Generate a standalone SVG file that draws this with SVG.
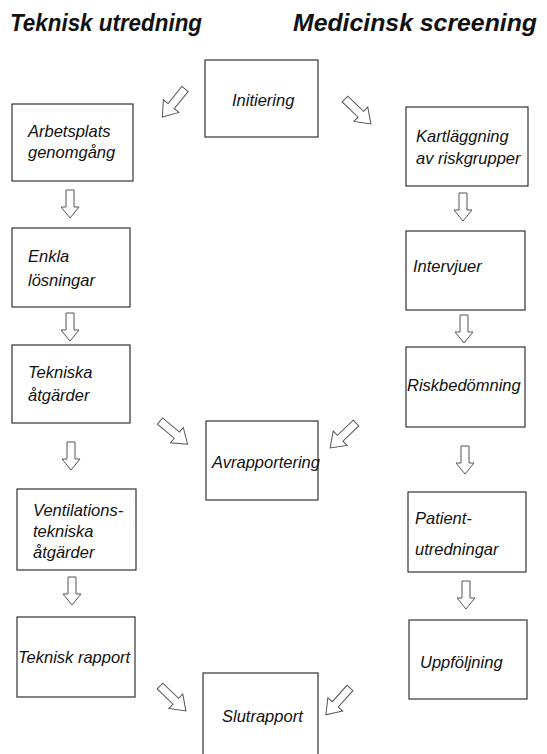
<svg xmlns="http://www.w3.org/2000/svg" width="547" height="754" viewBox="0 0 547 754">
<style>
.title{font-family:"Liberation Sans",Arial,sans-serif;font-weight:bold;font-style:italic;font-size:23px;fill:#111}
.lbl{font-family:"Liberation Sans",Arial,sans-serif;font-style:italic;font-size:16.5px;fill:#111}
.box{fill:#fff;stroke:#333;stroke-width:1.2}
.arr{fill:#fff;stroke:#555;stroke-width:1}
</style>
<defs>
<path id="va" d="M-4,0 H4 V17 H9 L0,28 L-9,17 H-4 Z"/>
<path id="da" d="M-4,0 H4 V22 H10 L0,36 L-10,22 H-4 Z"/>
</defs>
<rect width="547" height="754" fill="#fff"/>
<text class="title" x="10" y="31" textLength="192" lengthAdjust="spacingAndGlyphs">Teknisk utredning</text>
<text class="title" x="293" y="31" textLength="244" lengthAdjust="spacingAndGlyphs">Medicinsk screening</text>

<g id="connectors" class="arr">
<use href="#va" x="70" y="190"/>
<use href="#va" x="70" y="313"/>
<use href="#va" x="71" y="442"/>
<use href="#va" x="72" y="577"/>
<use href="#va" x="463" y="193"/>
<use href="#va" x="464" y="315"/>
<use href="#va" x="465" y="446"/>
<use href="#va" x="466" y="581"/>
<use href="#da" transform="translate(185,89) rotate(39)"/>
<use href="#da" transform="translate(345,99) rotate(-46)"/>
<use href="#da" transform="translate(160,421) rotate(-50)"/>
<use href="#da" transform="translate(356,423) rotate(46)"/>
<use href="#da" transform="translate(160,686) rotate(-46)"/>
<use href="#da" transform="translate(350,688) rotate(42)"/>
</g>

<g id="initiering"><rect class="box" x="205" y="60" width="113" height="77"/><text class="lbl" x="232" y="106">Initiering</text></g>
<g id="arbetsplats"><rect class="box" x="12" y="104" width="121" height="77"/><text class="lbl" x="28" y="137">Arbetsplats</text><text class="lbl" x="28" y="158">genomgång</text></g>
<g id="kartlaggning"><rect class="box" x="406" y="107" width="122" height="79"/><text class="lbl" x="416" y="142">Kartläggning</text><text class="lbl" x="416" y="164">av riskgrupper</text></g>
<g id="enkla"><rect class="box" x="12" y="228" width="118" height="79"/><text class="lbl" x="28" y="262">Enkla</text><text class="lbl" x="28" y="286">lösningar</text></g>
<g id="intervjuer"><rect class="box" x="406" y="231" width="119" height="79"/><text class="lbl" x="413" y="272">Intervjuer</text></g>
<g id="tekniska"><rect class="box" x="12" y="345" width="118" height="78"/><text class="lbl" x="28" y="378">Tekniska</text><text class="lbl" x="28" y="401">åtgärder</text></g>
<g id="riskbedomning"><rect class="box" x="406" y="347" width="119" height="80"/><text class="lbl" x="407" y="391">Riskbedömning</text></g>
<g id="avrapportering"><rect class="box" x="206" y="421" width="112" height="79"/><text class="lbl" x="212" y="468">Avrapportering</text></g>
<g id="ventilation"><rect class="box" x="17" y="489" width="119" height="81"/><text class="lbl" x="33" y="516">Ventilations-</text><text class="lbl" x="33" y="537">tekniska</text><text class="lbl" x="33" y="558">åtgärder</text></g>
<g id="patient"><rect class="box" x="408" y="492" width="118" height="80"/><text class="lbl" x="415" y="524">Patient-</text><text class="lbl" x="415" y="555">utredningar</text></g>
<g id="tekniskrapport"><rect class="box" x="17" y="617" width="118" height="80"/><text class="lbl" x="18" y="663">Teknisk rapport</text></g>
<g id="uppfoljning"><rect class="box" x="409" y="620" width="118" height="79"/><text class="lbl" x="420" y="668">Uppföljning</text></g>
<g id="slutrapport"><rect class="box" x="203" y="673" width="115" height="90"/><text class="lbl" x="222" y="722">Slutrapport</text></g>
</svg>
